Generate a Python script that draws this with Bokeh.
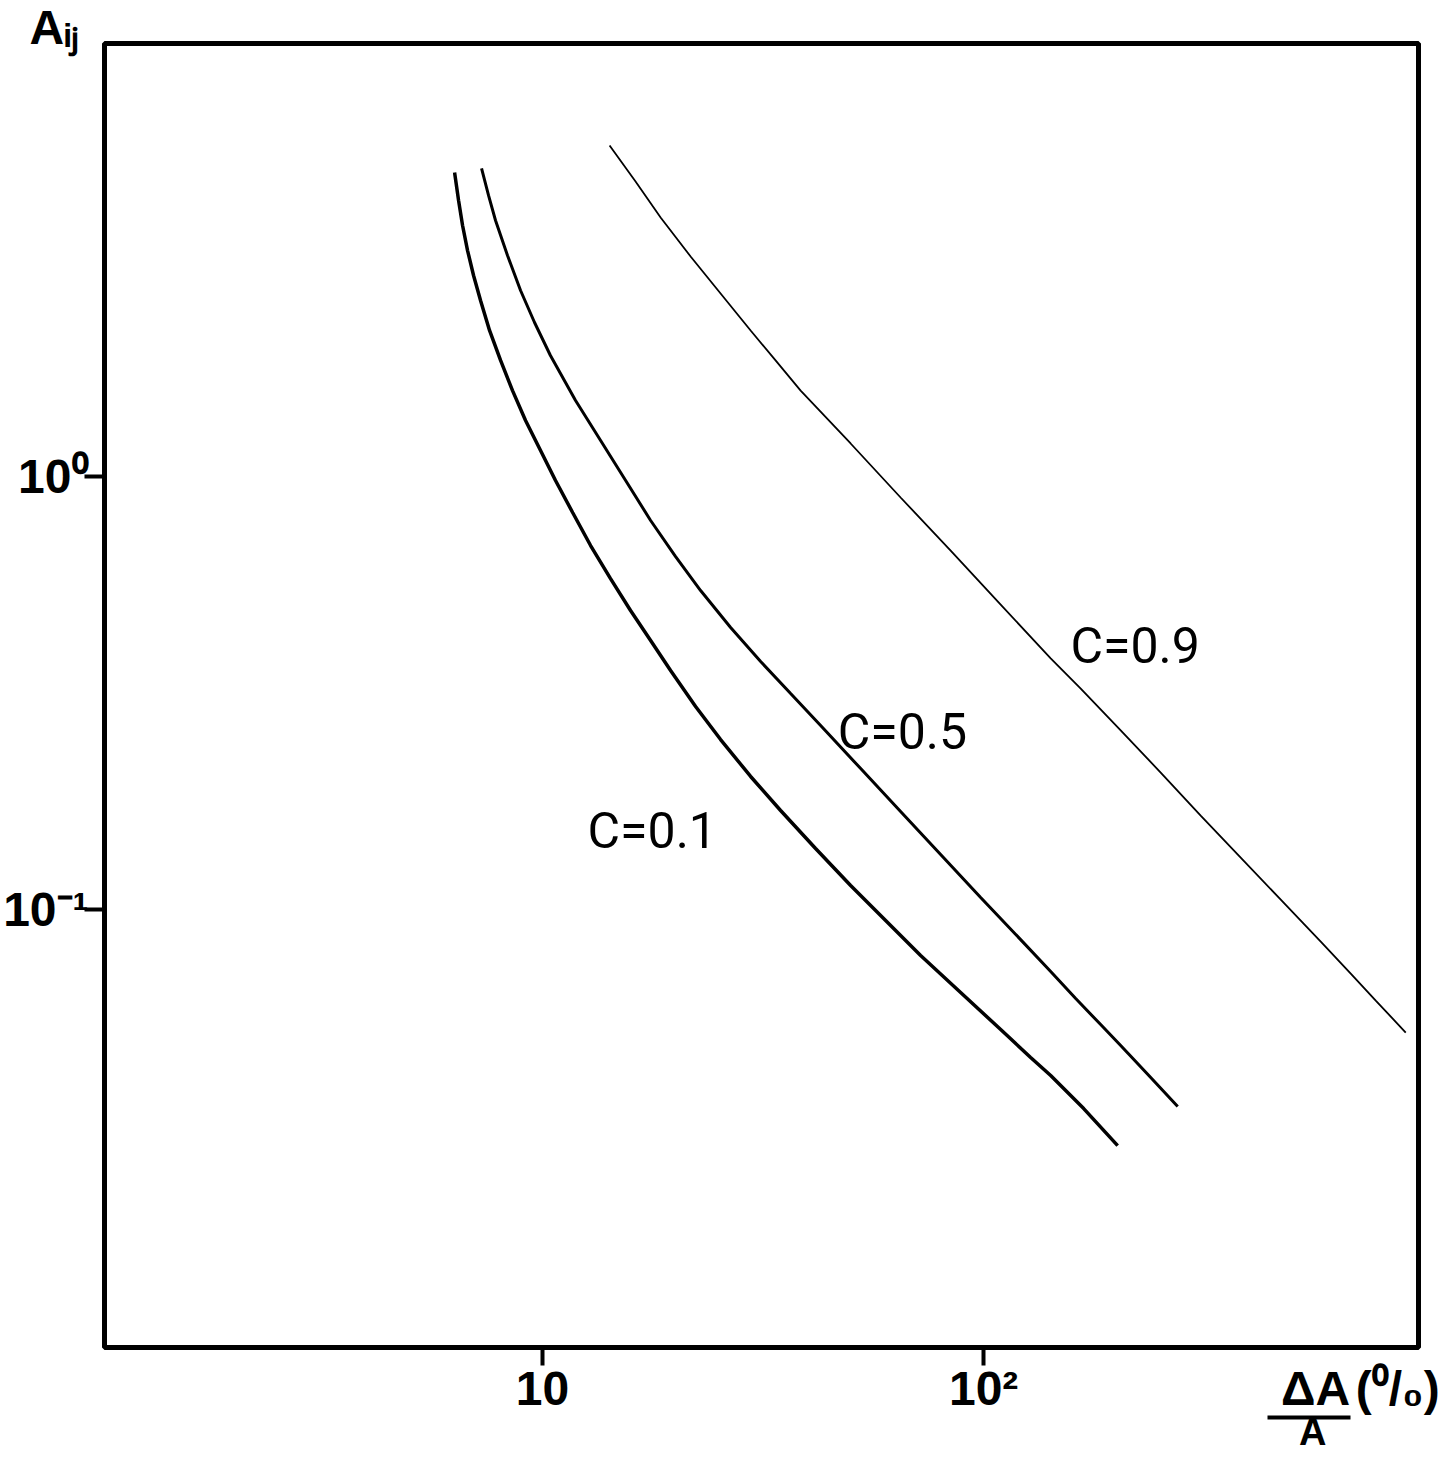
from bokeh.plotting import figure
from bokeh.models import FixedTicker, LogAxis
from bokeh.core.properties import value
from bokeh.embed import file_html
from bokeh.resources import INLINE

# --- data (x = dA/A in %, y = A_ij) ---
c01_x = [6.318, 6.451, 6.587, 6.761, 6.976, 7.235, 7.583, 8.033, 8.550, 9.151, 9.896, 10.70, 11.70, 12.85,
         14.26, 15.83, 17.58, 19.51, 22.23, 25.33, 29.63, 34.65, 41.59, 49.94, 59.95, 71.97, 88.68, 109.3,
         127.8, 141.9, 168.6, 201.3]
c01_y = [5.036, 4.340, 3.799, 3.325, 2.912, 2.550, 2.174, 1.854, 1.579, 1.347, 1.148, 0.979, 0.8258, 0.6928,
         0.5812, 0.4903, 0.4181, 0.3564, 0.2944, 0.2469, 0.2029, 0.1693, 0.1383, 0.1136, 0.09432, 0.07829,
         0.06434, 0.05283, 0.04553, 0.04136, 0.03470, 0.02850]

c05_x = [7.273, 7.543, 7.824, 8.329, 8.916, 9.591, 10.42, 11.88, 13.54, 15.43, 17.58, 20.03, 22.82, 26.69,
         31.22, 36.51, 42.70, 52.63, 64.82, 79.89, 98.45, 121.3, 141.9, 161.7, 184.2, 204.5, 239.2, 275.4]
c05_y = [5.145, 4.457, 3.902, 3.239, 2.689, 2.268, 1.903, 1.498, 1.211, 0.979, 0.7915, 0.6534, 0.5454, 0.4480,
         0.3739, 0.3153, 0.2660, 0.2116, 0.1684, 0.1340, 0.1066, 0.08522, 0.07192, 0.06229, 0.05424, 0.04851,
         0.04092, 0.03508]

c09_x = [14.19, 16.25, 18.52, 21.66, 25.33, 29.63, 33.75, 38.47, 49.94, 64.82, 84.18, 109.3, 141.9, 166.0,
         204.5, 252.0, 310.5, 382.6, 471.6, 581.1, 679.6, 774.4, 905.6]
c09_y = [5.813, 4.800, 3.965, 3.222, 2.647, 2.174, 1.854, 1.579, 1.192, 0.8944, 0.6746, 0.5062, 0.3800, 0.3239,
         0.2591, 0.2072, 0.1648, 0.1318, 0.1054, 0.08436, 0.07116, 0.06163, 0.05199]

curve_labels = ["C=0.1", "C=0.5", "C=0.9"]
label_x = [12.65, 46.7, 157.4]
label_y = [0.152, 0.2577, 0.407]

x_ticks = [10, 100]
x_tick_labels = ["10", "10\u00b2"]
y_ticks = [0.1, 1]
y_tick_labels = ["10\u207b\u00b9", "10\u2070"]

y_title = "A\u1d62\u2c7c"
x_title_top = "\u0394A"
x_title_bottom = "A"
x_title_unit = "(\u2070/\u2080)"
# where the x-axis title parts sit along the x axis (data units)
x_title_top_pos = 566.0
x_title_unit_pos = 868.5
x_title_bottom_pos = 557.0
x_title_bar = (440.6, 679.6)

W, H = 1446, 1457
p = figure(width=W, height=H, x_axis_type="log", y_axis_type="log",
           x_range=(1.016, 968), y_range=(0.00974, 10.0),
           output_backend="svg", toolbar_location=None,
           min_border_left=104, min_border_right=28, min_border_top=43, min_border_bottom=110)

p.background_fill_color = "white"
p.border_fill_color = "white"
p.outline_line_color = "black"
p.outline_line_width = 5
p.grid.visible = False

FONT = "Liberation Sans"

# title A_ij (top left)
p.title.text = y_title
p.title.align = "left"
p.title.offset = -75
p.title.standoff = -20
p.title.text_font = FONT
p.title.text_font_style = "bold"
p.title.text_font_size = "48px"
p.title.text_color = "black"


def style_axis(ax, size="48px"):
    ax.axis_line_color = None
    ax.major_label_text_font = FONT
    ax.major_label_text_font_style = "bold"
    ax.major_label_text_font_size = size
    ax.major_label_text_color = "black"


# y axis
ya = p.yaxis[0]
style_axis(ya)
ya.ticker = FixedTicker(ticks=y_ticks)
ya.major_label_overrides = dict(zip(y_ticks, y_tick_labels))
ya.major_tick_line_color = "black"
ya.major_tick_line_width = 4
ya.major_tick_in = 0
ya.major_tick_out = 20
ya.minor_tick_line_color = None
ya.major_label_standoff = -4

# x axis: tick marks drawn as "minor" ticks so the title parts can ride on unmarked label slots
xa = p.xaxis[0]
style_axis(xa)
xt = x_ticks + [x_title_top_pos, x_title_unit_pos]
xa.ticker = FixedTicker(ticks=xt, minor_ticks=x_ticks)
xa.major_label_overrides = dict(zip(xt, x_tick_labels + [x_title_top, x_title_unit]))
xa.major_tick_line_color = None
xa.major_tick_in = 0
xa.major_tick_out = 18
xa.minor_tick_line_color = "black"
xa.minor_tick_line_width = 4
xa.minor_tick_in = 0
xa.minor_tick_out = 18
xa.major_label_standoff = -4

# second axis below: fraction bar + denominator
xb = LogAxis(bounds=x_title_bar, ticker=FixedTicker(ticks=[x_title_bottom_pos]))
style_axis(xb, size="38px")
xb.axis_line_color = "black"
xb.axis_line_width = 4
xb.major_label_overrides = {x_title_bottom_pos: x_title_bottom}
xb.major_tick_line_color = None
xb.major_tick_in = 0
xb.major_tick_out = 0
xb.minor_tick_line_color = None
xb.major_label_standoff = -7
p.add_layout(xb, "below")

p.line(c01_x, c01_y, line_color="black", line_width=3.5)
p.line(c05_x, c05_y, line_color="black", line_width=3)
p.line(c09_x, c09_y, line_color="black", line_width=1.8)

p.text(label_x, label_y, text=curve_labels, text_font=value("Roboto"),
       text_font_size="50px", text_color="black", text_align="left", text_baseline="alphabetic")

open("out.html", "w").write(file_html(p, INLINE))
